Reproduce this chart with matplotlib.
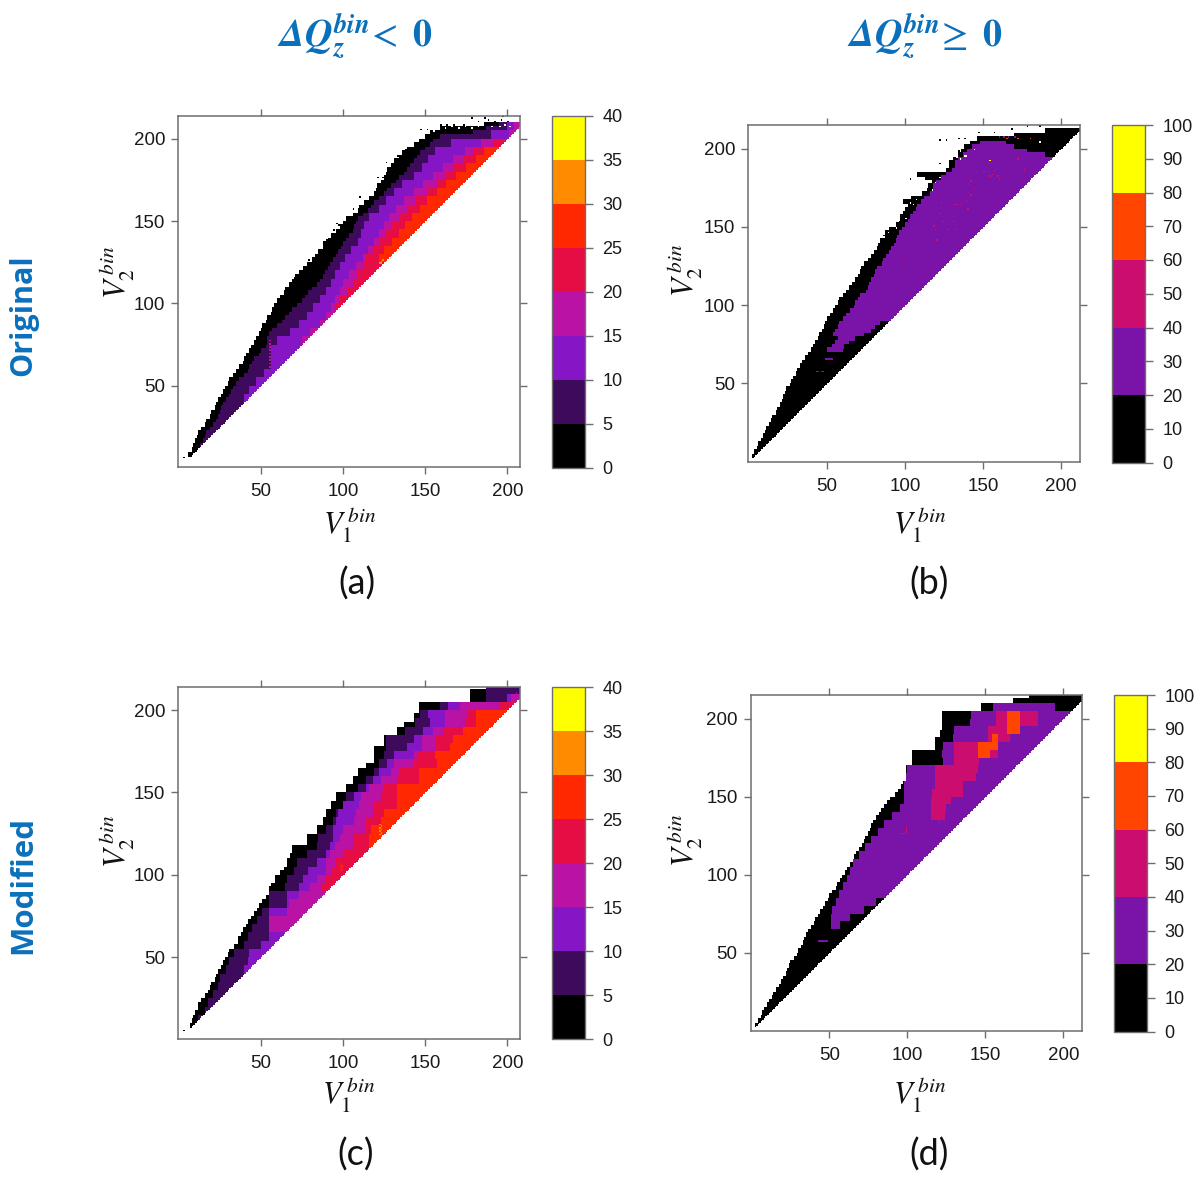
#!/usr/bin/env python3
# four wedge heatmaps: V1 bin against V2 bin, original and modified
import numpy as np
import matplotlib
matplotlib.use('Agg')
import matplotlib.pyplot as plt
from matplotlib.colors import ListedColormap, BoundaryNorm
from matplotlib.cm import ScalarMappable

NA = np.nan
W, H = 1200, 1178

plt.rcParams['font.family'] = ['Liberation Sans', 'DejaVu Sans']
plt.rcParams['mathtext.fontset'] = 'stix'

# centre of each row of bins (V2): five bins high, or 2.5 for the wedge edges
V2_ROWS = np.arange(2.5, 215, 5)
V2_FINE = np.arange(1.25, 215, 2.5)

# each array: V1 where that colour starts on the row, one value per row
A_L0 = [NA, NA, NA, 6.5, 8, 9, 10.5, 11.5, 12.5, 14,
        16, 17.5, 19, 20.5, 22, 23, 24.5, 26, 27.5, 28.5,
        30, 31, 33, 35.5, 37, 39, 40, 41.5, 43, 44.5,
        46.5, 47.5, 49.5, 50.5, 51.5, 53, 54.5, 56, 57.5, 58.5,
        60.5, 62.5, 64, 65.5, 67, 69, 71.5, 73, 76, 78,
        81, 83, 85.5, 88, 88.5, 91, 93.5, 96, 98, 100,
        102, 106, 109, 110.5, 113, 116, 119, 120.5, 121.5, 123.5,
        125, 126, 127, 129, 131.5, 134, 136.5, 139, 143, 146,
        150, 153, 159, 186, NA, NA]
A_L1 = [NA, NA, NA, NA, NA, 13, 15, 16, 17.5, 19,
        21, 23, 24, 25, 26, 27, 29.5, 31, 32, 33.5,
        35, 37, 40, 42, 43, 45, 46, 49, 50, 53,
        54, 54.5, 55, 57, 60, 63, 65, 67, 69, 72,
        75, 77, 79, 81, 84, 86, 88, 89, 91, 92,
        94, 96, 97, 99, 100, 102, 104, 106, 107, 108,
        109, 112, 115, 117, 119.5, 122, 125, 127, 129, 132,
        134, 137, 139, 141, 143, 145, 147, 150, 153, 155,
        159, 179, 187.5, 195, NA, NA]
A_L2 = [NA, NA, NA, NA, NA, NA, NA, NA, 40, 43,
        47.5, 52, 55.7, 55.7, 55.7, 60, 68, 73, 78, 82,
        86, 90, 93, 95, 98, 101, 105, 109, 111, 113,
        116, 122, 126, 131, 136, 143, 148, 152, 156, 166,
        190, 200, NA]
A_L3 = [NA, NA, NA, NA, NA, NA, NA, NA, NA, NA,
        NA, NA, NA, NA, NA, 75, 80, 86, 90, 93,
        95, 98, 100, 104, 108, 112, 115, 119, 122, 125,
        128, 132, 137, 143, 149, 155, 161, 167, 174, 184,
        201, 204, NA]
A_L4 = [NA, NA, NA, NA, NA, NA, NA, NA, NA, NA,
        NA, NA, NA, NA, NA, NA, NA, NA, NA, 95,
        98, 103, 106, 109, 112, 114, 118, 122, 126, 130,
        134, 139, 144, 151, 157, 162, 167, 173, 180, 191,
        NA, NA, NA]
A_L5 = [NA, NA, NA, NA, NA, NA, NA, NA, NA, NA,
        NA, NA, NA, NA, NA, NA, NA, NA, NA, NA,
        NA, NA, NA, NA, NA, 122, 125, 130, 134, 138,
        142, 147, 151, 157, 163, 169, 175, 181, 186, NA,
        NA, NA, NA]

C_L0 = [NA, NA, NA, 7, 8, 9.5, 10.5, 12, 12.5, 14,
        16, 18, 19, 20.5, 22, 23, 24.5, 26, 27, 28,
        30, 31.5, 34, 36, 36.5, 38, 39, 41, 42.5, 44,
        46, 48, 49.5, 51, 53, 55, 55.5, 56, 58.7, 58.7,
        62, 64, 66, 66, 68, 69, 69.5, 78, 78, 78,
        84, 84, 88, 88, 90, 90, 93, 93, 95.6, 95.6,
        102, 102, 106, 106, 109.4, 109.4, 114.5, 119.5, 119.5, 119.5,
        119.5, 124.6, 124.6, 124.6, 132.8, 132.8, 137, 143, 143, 146.5,
        146.5, 146.5, 177, 177, 177, 187.5]
C_L1 = [NA, NA, 12, 16, 18, 21, 24, 25, 29, 31,
        34, 40, 42.5, 45.5, 48, 51, 55, 55, 65, 66,
        70, 72, 78, 84, 85, 90, 94, 96, 100, 102,
        109.4, 114.5, 118.6, 121.6, 124.6, 125.7, 125.7, 138, 144, 147,
        159, 187.5, 187.5]
C_L2 = [NA, NA, NA, NA, NA, NA, NA, NA, 40, 42,
        43.5, 50, 55, 55, 55, 55, 66, 66, 73, 76,
        79, 84, 90, 92, 94, 94, 96, 97, 100, 107.4,
        114.5, 118.5, 121.6, 126.7, 130.7, 138.8, 143, 149, 153, 152,
        164, 200, NA]
C_L3 = [NA, NA, NA, NA, NA, NA, NA, NA, NA, NA,
        NA, NA, NA, 55, 55, 66, 67, 73, 80, 84,
        90, 90, 92, 95, 98, 100, 107, 108.5, 110.5, 111.5,
        116.5, 122.6, 128.7, 130.7, 143, 148, 148, 155, 162, 162,
        171, 201.7, NA]
C_L4 = [NA, NA, NA, NA, NA, NA, NA, NA, NA, NA,
        NA, NA, NA, NA, NA, NA, NA, NA, 87, 90,
        93, 96, 100, 106, 106, 114.5, 114.5, 118.5, 118.5, 122.6,
        124.6, 132.8, 134.8, 143, 145, 156, 156, 161, 175, 176,
        195, NA, NA]
C_L5 = [NA, NA, NA, NA, NA, NA, NA, NA, NA, NA,
        NA, NA, NA, NA, NA, NA, NA, NA, NA, NA,
        NA, NA, NA, 116, 116.5, 117.5, 122.6, 124.6, 132.8, 132.8,
        132.8, 146, 146, 157, 156, 165, 167, 173, 181, 181.5,
        NA, NA, NA]

B_L0 = [NA, 2, 3.5, 5, 6.5, 8, 9.5, 10.5, 11.5, 13,
        14, 15.5, 17, 18.5, 20, 21, 22, 23, 24.5, 26,
        27, 28.5, 30, 31.5, 33, 34.5, 36, 38, 40, 41,
        42.5, 44, 45.5, 47, 48, 49.5, 50.5, 52.5, 54, 55.5,
        57, 58, 60, 62, 64, 66, 68, 70, 71, 72.5,
        74, 76, 78, 80, 82, 83, 84.5, 86, 87.5, 90,
        94, 96, 97.5, 99, 100.5, 102, 99, 104, 111, 114,
        115, 117, 113, 108, 126, 128, 128.5, 131, 134, 136,
        138, 142, 146, 170, 190, NA]
B_L1 = [NA, NA, NA, NA, NA, NA, NA, NA, NA, NA,
        NA, NA, NA, NA, NA, NA, NA, NA, NA, NA,
        NA, NA, NA, NA, NA, NA, NA, NA, 50, 53,
        55, 57, 54, 55, 57, 58.5, 60, 62, 65, 67,
        68, 70, 71, 75, 76, 77, 78, 80, 81, 82,
        85, 86.5, 88, 90, 91.5, 93, 94, 95, 96.5, 98,
        100, 102, 103, 105, 107, 108.5, 110, 112, 116, 118,
        118.5, 120, 123, 126, 130, 132, 132.5, 134, 137, 140,
        143, 148, NA, NA, NA, NA]
B_L1_END = [NA, NA, NA, NA, NA, NA, NA, NA, NA, NA,
            NA, NA, NA, NA, NA, NA, NA, NA, NA, NA,
            NA, NA, NA, NA, NA, NA, NA, NA, 60, 61,
            64, 68, 74, 78, 81, 84, NA, NA, NA, NA,
            NA, NA, NA, NA, NA, NA, NA, NA, NA, NA,
            NA, NA, NA, NA, NA, NA, NA, NA, NA, NA,
            NA, NA, NA, NA, NA, NA, NA, NA, NA, NA,
            NA, NA, NA, NA, NA, NA, NA, NA, 190, 178,
            170, 165, NA, NA, NA, NA]

D_L0 = [NA, 2, 4, 6, 7.5, 8.5, 10.5, 11.5, 13, 14.5,
        16.5, 18, 19, 20.5, 22.5, 23.5, 24.5, 25.5, 27, 29,
        30.5, 32, 33, 34, 35.5, 36.5, 37.8, 40, 41.5, 43,
        44.5, 46, 47.4, 49, 50.5, 52, 54, 55.5, 57, 58,
        60, 61, 63, 65, 65.6, 67, 69, 71, 72, 73,
        75, 76, 77, 78.5, 80.5, 82, 83.5, 85.5, 87.5, 89,
        92, 94, 96, 97.5, 98.7, 99, 99, 99, 103.4, 103.4,
        103.4, 103.4, 118, 118, 118, 121, 121, 121.6, 121.6, 121.6,
        121.6, 121.6, 146.8, 146.8, 168, 178]
D_L1 = [NA, NA, NA, NA, NA, NA, NA, NA, NA, NA,
        NA, NA, NA, 51, 51, 52, 54, 56, 59, 61,
        63, 65, 69.5, 73.5, 77, 81, 85, 90, 95, 97.6,
        97.6, 97.6, 99, 99.8, 123, 122, 123, 128.6, 129.7, 140.4,
        140.8, 155.3, NA]
D_L1_END = [NA, NA, NA, NA, NA, NA, NA, NA, NA, NA,
            NA, NA, NA, 57, 63, 72, 80, NA, NA, NA,
            NA, NA, NA, NA, NA, NA, NA, NA, NA, NA,
            NA, NA, NA, NA, NA, NA, NA, NA, NA, NA,
            NA, 195, NA]
D_L2 = [NA, NA, NA, NA, NA, NA, NA, NA, NA, NA,
        NA, NA, NA, NA, NA, NA, NA, NA, NA, NA,
        NA, NA, NA, NA, NA, NA, NA, 114.8, 114.8, 114.8,
        115.8, 118, 118, 118, 129.7, 129.7, 129.7, 152, 152, 157.5,
        157.5, NA, NA]
D_L2_END = [NA, NA, NA, NA, NA, NA, NA, NA, NA, NA,
            NA, NA, NA, NA, NA, NA, NA, NA, NA, NA,
            NA, NA, NA, NA, NA, NA, NA, 124.4, 125, 127.6,
            136, 136, 143.6, 144.6, 145.7, 158.5, 158.5, 166, 166, 184,
            184, NA, NA]
D_L3 = [NA, NA, NA, NA, NA, NA, NA, NA, NA, NA,
        NA, NA, NA, NA, NA, NA, NA, NA, NA, NA,
        NA, NA, NA, NA, NA, NA, NA, NA, NA, NA,
        NA, NA, NA, NA, NA, 144.7, 144.7, 154, 164, 164,
        164, NA, NA]
D_L3_END = [NA, NA, NA, NA, NA, NA, NA, NA, NA, NA,
            NA, NA, NA, NA, NA, NA, NA, NA, NA, NA,
            NA, NA, NA, NA, NA, NA, NA, NA, NA, NA,
            NA, NA, NA, NA, NA, 153, 158.5, 158.5, 172.4, 172.4,
            172.4, NA, NA]

# single stray bins: V1, V2, colour index (-1 is an empty bin)
A_STRAY = [(3.8, 6.3, 0), (178, 212, 0), (186, 212, 0), (197, 213, 0), (147, 205, 0),
           (151, 205, 0), (159, 208, 0), (163, 208, 0), (167, 208, 0), (173, 208, 0),
           (182, 210, 0), (188, 211, 0), (192, 210, 0), (196, 211, 0), (200, 210, 0),
           (138, 193, 0), (133, 189, 0), (126, 185, 0), (121, 176, 0), (124, 176, 0),
           (110, 164, 0), (106, 157, 0), (96, 148, 0), (94, 144, 0), (97, 147, 0),
           (90, 138, 0), (79, 126, 0), (78, 123, 0), (77, 121, 0), (70, 115, 0),
           (66, 106, 0), (50, 83, 0), (206, 209, 3), (205, 209, 3), (204, 209, 3),
           (123, 125, 6), (122, 124, 6), (123, 124, 6), (124, 126, 6),
           (55, 61, 3), (55, 63, 3), (55, 65, 3), (55, 67, 3), (55, 69, 3), (55, 71, 3),
           (55, 73, 3), (55, 75, 3), (55, 77, 3),
           (190, 207, -1), (195, 207, -1), (198, 208, -1), (201, 207, -1),
           (162, 206, -1), (166, 207, -1), (170, 206, -1), (174, 207, -1), (178, 206, -1),
           (182, 207, -1), (155, 204, -1)]
C_STRAY = [(3.8, 5.5, 0), (122, 124, 6), (122, 126, 6), (122, 128, 6), (122, 130, 6),
           (123, 125, 6), (123, 127, 6), (123, 129, 6), (98, 102, 5), (98, 104, 5),
           (98, 106, 5), (99, 103, 5), (99, 105, 5), (206, 209, 3), (205, 210, 2)]
B_STRAY = [(2, 3, 0), (154, 182, 2), (156, 183, 2), (159, 182, 2), (157, 185, 2), (160, 180, 2),
           (144, 174, 2), (148, 176, 2), (141, 176, 2), (142, 170, 2), (131, 164, 2),
           (135, 164, 2), (133, 164, 2), (139, 166, 2), (123, 165, 2), (118, 150, 2),
           (122, 158, 2), (124, 153, 2), (119, 148, 2), (127, 148, 2), (133, 148, 2),
           (131, 153, 2), (140, 161, 2), (120, 141, 2), (98, 128, 2), (172, 193, 2),
           (176, 186, 2), (142, 179, 2), (145, 185, 2), (150, 185, 2), (153, 190, 2),
           (165, 206, 3), (172, 206, 3), (180, 206, 3), (154, 192, 4),
           (122, 205, 0), (126, 205, 0), (134, 206, 0), (138, 206, 0), (147, 210, 0),
           (157, 210, 0), (168, 212, 0), (178, 214, 0), (186, 214, 0), (134, 198, 0),
           (122, 190, 0), (103, 180, 0), (99, 165, 0),
           (49, 65, 1), (50, 65, 1), (51, 65, 1), (52, 65, 1), (53, 65, 1),
           (43, 57, 1), (44, 57, 1), (46, 57, 1), (47, 57, 1),
           (160, 207, 1), (163, 207, 1), (166, 207, 1), (170, 207, 1),
           (135, 193, -1), (138, 195, -1), (137, 200, -1), (144, 199, -1), (139, 195, -1),
           (94, 149, -1), (96, 154, -1), (100, 155, -1), (89, 146, -1), (86, 143, -1),
           (103, 165, -1), (105, 164, -1), (107, 167, -1), (117, 173, -1), (119, 178, -1),
           (122, 181, -1), (133, 194, -1), (165, 209, -1), (169, 209, -1), (182, 212, -1),
           (186, 204, -1)]
D_STRAY = [(43, 57, 1), (44, 57, 1), (45, 57, 1), (46, 57, 1), (47, 57, 1), (48, 57, 1),
           (96, 126, 2), (97, 126, 2), (98, 126, 2), (99, 127, 2), (99, 128, 2), (99, 129, 2),
           (99, 130, 2), (120, 136, 2), (120, 134, 2), (120, 132, 2)]

A_COLOURS = ['#000000', '#3e0a5c', '#8515c5', '#ba12a5', '#e60d45', '#ff2800', '#ff8c00', '#ffff00']
B_COLOURS = ['#000000', '#7a14a8', '#cc0d70', '#ff4500', '#ffff00']
A_BOUNDS = [0, 5, 10, 15, 20, 25, 30, 35, 40]
B_BOUNDS = [0, 20, 40, 60, 80, 100]
A_TICKS = [0, 5, 10, 15, 20, 25, 30, 35, 40]
B_TICKS = [0, 10, 20, 30, 40, 50, 60, 70, 80, 90, 100]

V_TICKS = [50, 100, 150, 200]
GREY = '#6e6e6e'
BLUE = '#0b70bb'


def px_axes(fig, left, top, right, bottom):
    return fig.add_axes([left / W, 1 - bottom / H, (right - left) / W, (bottom - top) / H])


def build_grid(layers, stray, bounds):
    # bins are one unit wide; row arrays set the colour, the diagonal closes the wedge
    n = 216
    v1, v2 = np.meshgrid(np.arange(n) + 0.5, np.arange(n) + 0.5)
    grid = np.full((n, n), np.nan)
    for level, rows, starts, ends in layers:
        half = (rows[1] - rows[0]) / 2
        if ends is None:
            ends = [NA] * len(rows)
        for row, s, e in zip(rows, starts, ends):
            if np.isnan(s):
                continue
            hit = (np.abs(v2 - row) <= half) & (v1 >= s) & (v1 <= v2)
            if not np.isnan(e):
                hit &= v1 < e
            grid[hit] = bounds[level] + 0.5
    for x, y, level in stray:
        grid[int(y), int(x)] = np.nan if level < 0 else bounds[level] + 0.5
    return grid


def panel(fig, box, xlim, ylim, cbox, layers, stray, colours, bounds, cticks, xlab, ylab):
    ax = px_axes(fig, *box)
    cmap = ListedColormap(colours)
    norm = BoundaryNorm(bounds, cmap.N)
    grid = build_grid(layers, stray, bounds)
    edges = np.arange(grid.shape[0] + 1)
    ax.pcolormesh(edges, edges, grid, cmap=cmap, norm=norm, rasterized=True)
    ax.set_xlim(*xlim)
    ax.set_ylim(*ylim)
    ax.set_xticks(V_TICKS)
    ax.set_yticks(V_TICKS)
    ax.tick_params(top=True, right=True, length=5, width=1, color=GREY,
                   labelsize=13.5, labelcolor='#1a1a1a')
    ax.tick_params(axis='x', pad=6.5)
    ax.tick_params(axis='y', pad=4.5)
    for s in ax.spines.values():
        s.set_color(GREY)
        s.set_linewidth(1.1)

    cax = px_axes(fig, *cbox)
    cb = fig.colorbar(ScalarMappable(norm=norm, cmap=cmap), cax=cax, ticks=cticks, spacing='proportional')
    cb.minorticks_off()
    cb.ax.tick_params(length=5.5, width=1, color=GREY, labelsize=13, labelcolor='#1a1a1a', pad=7)
    cb.outline.set_edgecolor(GREY)
    cb.outline.set_linewidth(1)
    cb.ax.set_yticklabels([str(t) for t in cticks], ha='left')

    fig.text(xlab[0] / W, 1 - xlab[1] / H, r'$V_1^{\,bin}$', fontsize=22, ha='center', va='center', color='#111111')
    fig.text(ylab[0] / W, 1 - ylab[1] / H, r'$V_2^{\,bin}$', fontsize=22, ha='center', va='center',
             rotation=90, color='#111111')
    return ax


def main():
    fig = plt.figure(figsize=(W / 100, H / 100), dpi=100, facecolor='white')

    a_layers = [(0, V2_FINE, A_L0, None), (1, V2_FINE, A_L1, None), (2, V2_ROWS, A_L2, None),
                (3, V2_ROWS, A_L3, None), (4, V2_ROWS, A_L4, None), (5, V2_ROWS, A_L5, None)]
    c_layers = [(0, V2_FINE, C_L0, None), (1, V2_ROWS, C_L1, None), (2, V2_ROWS, C_L2, None),
                (3, V2_ROWS, C_L3, None), (4, V2_ROWS, C_L4, None), (5, V2_ROWS, C_L5, None)]
    b_layers = [(0, V2_FINE, B_L0, None), (1, V2_FINE, B_L1, B_L1_END)]
    d_layers = [(0, V2_FINE, D_L0, None), (1, V2_ROWS, D_L1, D_L1_END),
                (2, V2_ROWS, D_L2, D_L2_END), (3, V2_ROWS, D_L3, D_L3_END)]

    panel(fig, (178.3, 116, 520, 467.3), (-0.1, 207.7), (0.45, 213.8), (551.7, 116, 585, 467.7),
          a_layers, A_STRAY, A_COLOURS, A_BOUNDS, A_TICKS, (350, 524), (116, 272))
    panel(fig, (748.3, 125, 1080, 462), (-0.45, 212.2), (-0.3, 215.2), (1111.5, 125, 1145, 462.5),
          b_layers, B_STRAY, B_COLOURS, B_BOUNDS, B_TICKS, (920, 524), (685, 270))
    panel(fig, (178.3, 687.3, 520, 1038.7), (-0.1, 207.7), (0.45, 213.8), (551.7, 687.3, 585, 1039),
          c_layers, C_STRAY, A_COLOURS, A_BOUNDS, A_TICKS, (349, 1095), (116, 841))
    panel(fig, (750.7, 695, 1082.3, 1031), (-0.45, 212.2), (-0.3, 215.2), (1113.5, 695, 1147, 1031.5),
          d_layers, D_STRAY, B_COLOURS, B_BOUNDS, B_TICKS, (920, 1095), (685, 840))

    # column and row headings
    for x, sign in [(355, '<'), (925, r'\geq')]:
        fig.text(x / W, 1 - 36 / H,
                 r'$\mathbfit{\Delta Q}_{\mathbfit{z}}^{\mathbfit{bin}}\!' + sign + r'\ \mathbf{0}$',
                 fontsize=27.5, color=BLUE, ha='center', va='center')
    fig.text(23 / W, 1 - 315 / H, 'Original', rotation=90, fontsize=22, fontweight='bold',
             family=['Open Sans', 'DejaVu Sans'], color=BLUE, ha='center', va='center')
    fig.text(23 / W, 1 - 885 / H, 'Modified', rotation=90, fontsize=22.5, fontweight='bold',
             family=['Open Sans', 'DejaVu Sans'], color=BLUE, ha='center', va='center')

    for label, x, y in [('(a)', 357, 584), ('(b)', 929, 584), ('(c)', 356, 1155), ('(d)', 929, 1155)]:
        fig.text(x / W, 1 - y / H, label, fontsize=26, family=['Lato', 'DejaVu Sans'],
                 color='#111111', ha='center', va='center')

    fig.savefig('out.png', dpi=100)


if __name__ == '__main__':
    main()
